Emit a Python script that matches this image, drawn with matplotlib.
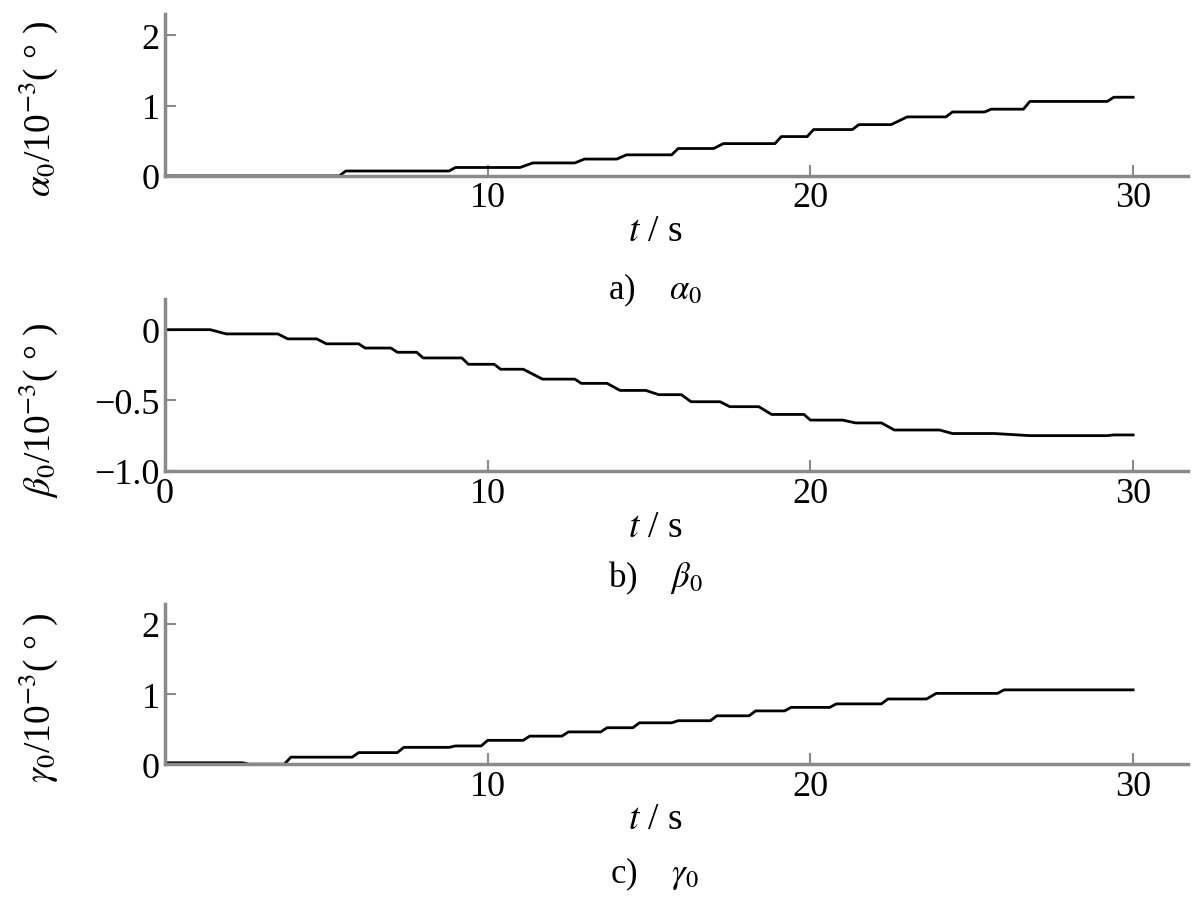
import matplotlib
matplotlib.use("Agg")
import matplotlib.pyplot as plt
import numpy as np

# step segments: start time, end time, level (10^-3 deg)
a_t0 = [0, 5.6, 9.0, 11.4, 13.0, 14.3, 15.9, 17.3, 19.1, 20.1, 21.5, 23.0, 24.4, 25.6, 26.8, 29.4]
a_t1 = [5.4, 8.8, 11.0, 12.7, 14.0, 15.7, 17.0, 18.9, 19.9, 21.3, 22.5, 24.2, 25.4, 26.6, 29.2, 30.0]
a_val = [0, 0.07, 0.12, 0.185, 0.24, 0.30, 0.39, 0.46, 0.56, 0.66, 0.73, 0.84, 0.91, 0.95, 1.06, 1.12]

b_t0 = [0, 1.9, 3.8, 5.0, 6.2, 7.2, 8.0, 9.4, 10.4, 11.7, 12.9, 14.1, 15.3, 16.3, 17.5, 18.8,
        20.0, 21.4, 22.6, 24.4, 26.8, 29.4]
b_t1 = [1.4, 3.5, 4.7, 6.0, 7.0, 7.8, 9.2, 10.2, 11.1, 12.7, 13.7, 14.9, 16.0, 17.2, 18.4, 19.8,
        21.0, 22.2, 24.0, 25.7, 29.2, 30.0]
b_val = [0, -0.03, -0.065, -0.10, -0.13, -0.16, -0.20, -0.245, -0.28, -0.35, -0.38, -0.43, -0.46,
         -0.51, -0.545, -0.60, -0.64, -0.66, -0.71, -0.735, -0.75, -0.745]

c_t0 = [0, 2.6, 3.9, 6.0, 7.4, 9.0, 10.0, 11.3, 12.5, 13.7, 14.7, 15.9, 17.1, 18.3, 19.4, 20.8,
        22.4, 23.9, 26.0]
c_t1 = [2.4, 3.7, 5.8, 7.2, 8.8, 9.8, 11.1, 12.3, 13.5, 14.5, 15.7, 16.9, 18.1, 19.2, 20.6, 22.2,
        23.6, 25.8, 30.0]
c_val = [0.02, 0, 0.10, 0.165, 0.24, 0.26, 0.34, 0.40, 0.46, 0.52, 0.59, 0.62, 0.69, 0.76, 0.81,
         0.86, 0.93, 1.01, 1.06]

def steps(t0, t1, v):
    t = np.column_stack([t0, t1]).ravel()
    y = np.repeat(v, 2)
    return t, y

plt.rcParams['font.family'] = ['Liberation Serif', 'DejaVu Serif']
plt.rcParams['mathtext.fontset'] = 'stix'
plt.rcParams['font.size'] = 26

fig = plt.figure(figsize=(12, 9.12), dpi=100)

spine_col = '#8a8a8a'

panels = [
    # rect, data, ylim, yticks, yticklabels, xticks, ylabel, caption, text ys
    ([0.1375, 0.806, 0.8525, 0.178], (a_t0, a_t1, a_val), (0, 2.31), [0, 1, 2], ['0', '1', '2'],
     [10, 20, 30], r'$\alpha_0$/10$^{-3}$( ° )', r'a)    $\alpha_0$', 0.88, 0.746, 0.682),
    ([0.1375, 0.4825, 0.8525, 0.189], (b_t0, b_t1, b_val), (-1.0, 0.22), [0, -0.5, -1.0],
     ['0', '−0.5', '−1.0'], [0, 10, 20, 30], r'$\beta_0$/10$^{-3}$( ° )', r'b)    $\beta_0$',
     0.55, 0.421, 0.366),
    ([0.1375, 0.161, 0.8525, 0.176], (c_t0, c_t1, c_val), (0, 2.29), [0, 1, 2], ['0', '1', '2'],
     [10, 20, 30], r'$\gamma_0$/10$^{-3}$( ° )', r'c)    $\gamma_0$', 0.235, 0.101, 0.041),
]

for rect, data, ylim, yt, ytl, xt, ylab, cap, ylab_y, xl_y, cap_y in panels:
    ax = fig.add_axes(rect)
    t, y = steps(*data)
    ax.plot(t, y, color='black', lw=2.0)
    ax.set_xlim(0, 31.7)
    ax.set_ylim(*ylim)
    ax.set_xticks(xt)
    ax.set_yticks(yt)
    ax.set_yticklabels(ytl)
    for s in ['top', 'right']:
        ax.spines[s].set_visible(False)
    for s in ['left', 'bottom']:
        ax.spines[s].set_color(spine_col)
        ax.spines[s].set_linewidth(2.5)
    ax.tick_params(direction='in', length=8, width=1.5, color=spine_col, labelsize=26, pad=4)
    fig.text(0.032, ylab_y, ylab, rotation=90, ha='center', va='center', fontsize=27)
    fig.text(0.546, xl_y, r'$t$ / s', ha='center', va='center', fontsize=27)
    fig.text(0.546, cap_y, cap, ha='center', va='center', fontsize=25)

fig.savefig('out.png', dpi=100)
